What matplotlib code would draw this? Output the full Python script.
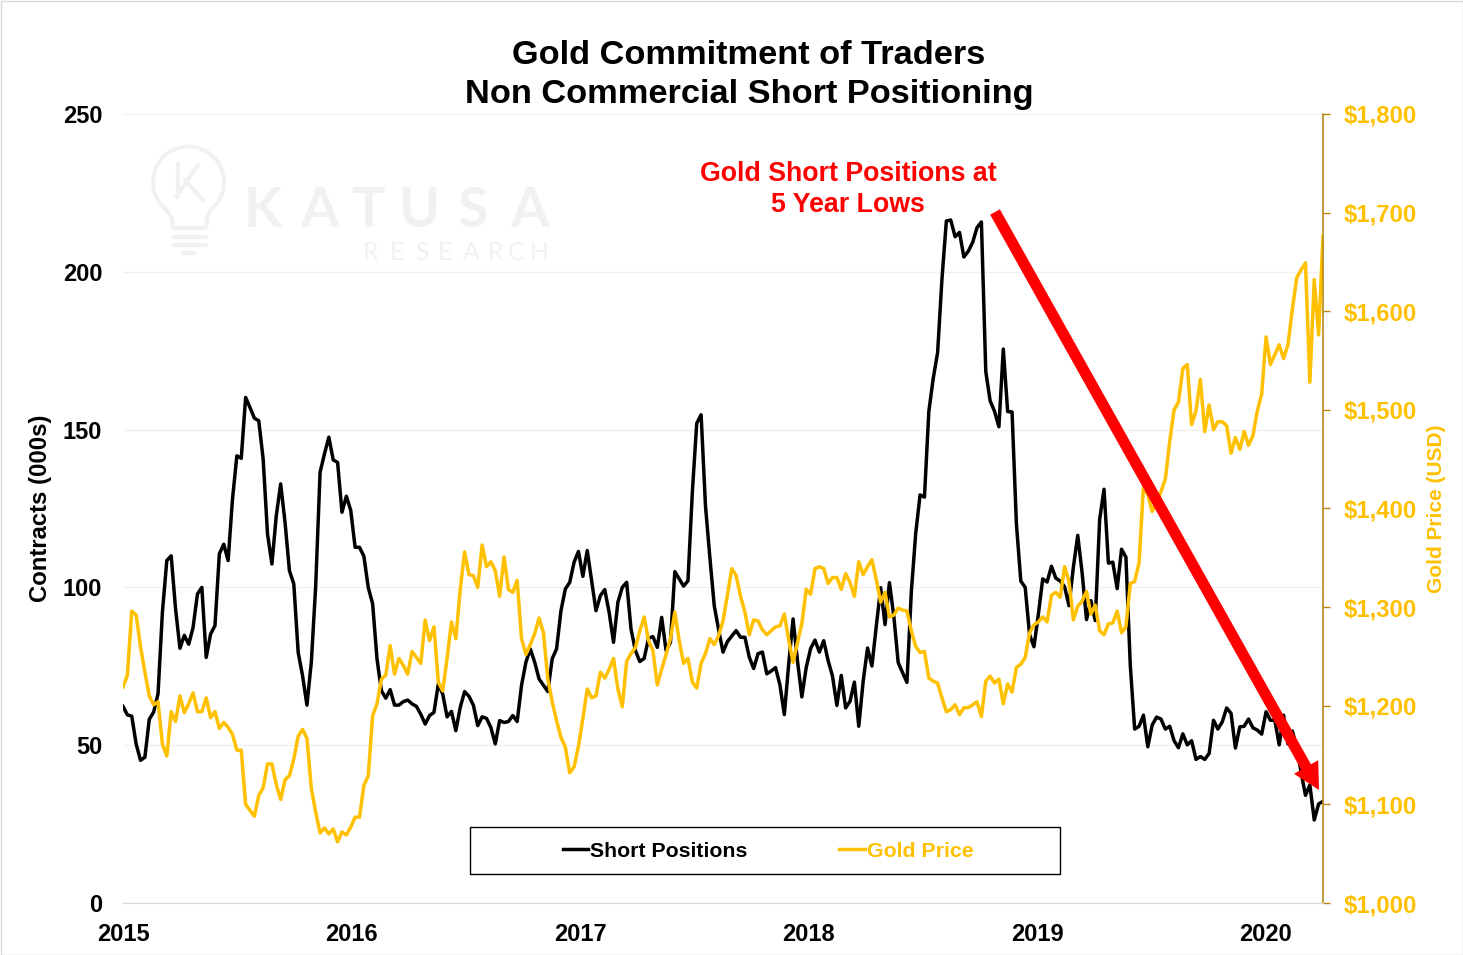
#!/usr/bin/env python
# coding: utf-8

import pandas as pd
from matplotlib import pyplot as plt
from matplotlib.lines import Line2D
from matplotlib.patches import Arc, FancyArrowPatch, Rectangle
from matplotlib.transforms import Affine2D

# weekly readings, in 000s of contracts
short_positions = [
    62.3, 59.6, 59.2, 50.4, 45.2, 46.2, 58.2, 60.5, 66.3, 92.2, 108.5, 110, 93.2, 80.7, 84.8, 82, 87.3, 97.9, 100, 77.8,
    85.2, 87.9, 110.6, 113.7, 108.5, 128, 141.7, 140.9, 160.2, 157, 153.6, 152.8, 140.7, 116.9, 107.4, 122.7, 132.8, 120.6, 105.3, 101.1,
    79.4, 72, 62.7, 76.3, 100.5, 136.5, 142.3, 147.6, 140.4, 139.6, 123.8, 128.9, 124.4, 112.7, 112.7, 109.9, 100, 94.8, 77.3, 67.3,
    64.9, 67.6, 62.7, 62.7, 63.8, 64.3, 63.1, 62.3, 59.8, 56.7, 59.4, 60.4, 69.4, 66.2, 59, 60.7, 54.6, 62, 67, 65.5,
    62.7, 56.2, 59, 58.5, 55.6, 50.4, 57.8, 57.2, 57.5, 59.4, 57.5, 69, 76.3, 80.5, 76.3, 71, 69, 67, 77.4, 80.5,
    92.6, 99.5, 101.6, 108, 111.4, 103.5, 111.7, 102.1, 92.6, 97.4, 99.3, 92.1, 82.6, 95.3, 100, 101.6, 86.8, 80, 76.5, 77.5,
    83.9, 84.4, 81, 90.5, 80, 82.6, 105, 102.7, 100.4, 102.1, 130.2, 152, 154.7, 125.8, 109.5, 94.2, 86.6, 79.5, 82.8, 84.6,
    86.3, 84.2, 84.2, 77.9, 74.3, 79, 79.5, 72.6, 73.5, 74.6, 69.1, 59.7, 75.7, 90, 76.8, 65.3, 74.6, 80.6, 83.3, 79.5,
    83.1, 76.8, 71.9, 62.6, 72.1, 61.8, 63.9, 70, 56, 70.2, 80.8, 75.1, 87.7, 99.9, 88.2, 101.5, 90.9, 76.2, 73, 69.9,
    98.6, 117.1, 129.3, 128.6, 155.8, 166.2, 174.4, 197.8, 216.1, 216.4, 211.1, 212.5, 204.7, 206.5, 209.3, 214, 215.8, 168.4, 159.1, 155.8,
    150.9, 175.5, 155.7, 155.6, 120, 102, 100, 85, 81.2, 91.4, 102.7, 101.7, 106.7, 102.9, 102, 100.2, 94.2, 106.4, 116.5, 104.6,
    89.8, 95.8, 89.5, 121.5, 131.1, 107.7, 108, 99.6, 112.1, 109.6, 75.2, 55.1, 56, 59.5, 49.5, 56.4, 58.9, 58.3, 55.1, 56,
    51.4, 49.2, 53.6, 50.1, 51.4, 45.5, 46.4, 45.5, 47.4, 57.9, 55.1, 57.4, 61.8, 60.1, 49.1, 55.8, 56, 58.3, 55.5, 54.8,
    53.5, 60.6, 57.9, 57.9, 50.1, 59.5, 50.4, 54.5, 49.5, 41.4, 34.1, 37.4, 26.3, 31.4, 32.2,
]

# weekly gold price, USD
gold_price = [
    1219, 1231, 1296, 1292, 1260, 1234, 1210, 1201, 1204, 1161, 1149, 1194, 1184, 1210, 1193, 1202, 1213, 1194, 1194, 1208,
    1188, 1194, 1177, 1183, 1178, 1171, 1155, 1155, 1100, 1094, 1088, 1109, 1117, 1141, 1141, 1120, 1105, 1125, 1129, 1146,
    1169, 1176, 1167, 1116, 1092, 1071, 1076, 1070, 1075, 1062, 1072, 1069, 1077, 1087, 1087, 1119, 1129, 1190, 1202, 1227,
    1231, 1261, 1232, 1248, 1241, 1232, 1255, 1249, 1243, 1287, 1266, 1280, 1224, 1215, 1248, 1285, 1268, 1318, 1356, 1333,
    1332, 1320, 1363, 1341, 1346, 1337, 1311, 1351, 1318, 1315, 1327, 1268, 1252, 1262, 1273, 1289, 1274, 1227, 1204, 1185,
    1168, 1158, 1132, 1138, 1159, 1187, 1217, 1208, 1210, 1234, 1228, 1237, 1248, 1217, 1199, 1245, 1253, 1259, 1276, 1290,
    1266, 1256, 1221, 1237, 1252, 1268, 1295, 1266, 1243, 1248, 1224, 1218, 1243, 1253, 1268, 1262, 1271, 1286, 1312, 1339,
    1332, 1311, 1295, 1272, 1287, 1286, 1277, 1272, 1276, 1280, 1281, 1293, 1267, 1244, 1264, 1283, 1318, 1313, 1339, 1341,
    1339, 1324, 1330, 1330, 1318, 1334, 1325, 1311, 1346, 1333, 1341, 1348, 1328, 1305, 1315, 1290, 1292, 1299, 1297, 1296,
    1276, 1260, 1254, 1255, 1228, 1225, 1223, 1208, 1194, 1196, 1201, 1191, 1198, 1198, 1201, 1204, 1189, 1225, 1230, 1223,
    1227, 1202, 1222, 1214, 1239, 1242, 1249, 1274, 1282, 1285, 1290, 1285, 1312, 1315, 1310, 1341, 1326, 1287, 1301, 1306,
    1316, 1293, 1302, 1276, 1272, 1283, 1284, 1296, 1274, 1280, 1324, 1326, 1345, 1422, 1414, 1397, 1406, 1417, 1430, 1468,
    1500, 1508, 1542, 1546, 1485, 1499, 1531, 1478, 1505, 1480, 1488, 1488, 1484, 1456, 1472, 1460, 1478, 1464, 1474, 1499,
    1516, 1574, 1546, 1556, 1566, 1552, 1566, 1602, 1634, 1642, 1649, 1528, 1632, 1576, 1676,
]

years = [2015, 2016, 2017, 2018, 2019, 2020]
contract_ticks = [0, 50, 100, 150, 200, 250]
price_ticks = [1000, 1100, 1200, 1300, 1400, 1500, 1600, 1700, 1800]

GOLD = '#FFC000'
AXIS_GOLD = '#B8860B'
W, H = 1463, 955

plt.rcParams['font.family'] = ['Liberation Sans', 'DejaVu Sans']
plt.rcParams['font.weight'] = 'bold'

dates = pd.date_range('2015-01-06', periods=len(short_positions), freq='7D')

fig = plt.figure(figsize=(W / 100, H / 100), dpi=100, facecolor='white')
ax = fig.add_axes([123 / W, 1 - 903 / H, 1200 / W, 789 / H])
ax2 = ax.twinx()

# pixel coordinates with the origin top left, for the decoration
px = Affine2D().scale(1, -1).translate(0, H)

ax.plot(dates, short_positions, color='black', lw=2.5, solid_joinstyle='round', label='Short Positions')
ax2.plot(dates, gold_price, color=GOLD, lw=2.5, solid_joinstyle='round', label='Gold Price')

ax.set_xlim(dates[0], dates[-1])
ax.set_ylim(0, 250)
ax2.set_ylim(1000, 1800)

ax.set_xticks([pd.Timestamp(f'{y}-01-06') for y in years])
ax.set_xticklabels(years, fontsize=17)
ax.set_yticks(contract_ticks)
ax.set_yticklabels(contract_ticks, fontsize=17)
ax.tick_params(axis='x', length=0, pad=14.5)
ax.tick_params(axis='y', length=0, pad=15)
ax.grid(axis='y', color='#f0f0f0', lw=1)
ax.set_axisbelow(True)

ax2.set_yticks(price_ticks)
ax2.set_yticklabels([f'${p:,}' for p in price_ticks], fontsize=17.2, color=GOLD)
ax2.tick_params(axis='y', length=5, width=1, color=AXIS_GOLD, pad=9.7)

for a in (ax, ax2):
    a.spines['top'].set_visible(False)
    a.spines['left'].set_visible(False)
    a.spines['bottom'].set_color('#d9d9d9')
    a.spines['right'].set_color('#d9d9d9')
ax2.spines['right'].set_color(AXIS_GOLD)
ax2.spines['right'].set_linewidth(1.1)

fig.text(41 / W, 1 - 508 / H, 'Contracts (000s)', rotation=90, fontsize=17.2, ha='center', va='center')
fig.text(1436 / W, 1 - 509 / H, 'Gold Price (USD)', rotation=90, fontsize=15, color=GOLD, ha='center', va='center')

fig.text(749 / W, 1 - 55 / H, 'Gold Commitment of Traders', fontsize=24.75, ha='center', va='center')
fig.text(749 / W, 1 - 94 / H, 'Non Commercial Short Positioning', fontsize=24.75, ha='center', va='center')

fig.text(848 / W, 1 - 174 / H, 'Gold Short Positions at', fontsize=19.3, color='red', ha='center', va='center')
fig.text(848 / W, 1 - 205 / H, '5 Year Lows', fontsize=19.3, color='red', ha='center', va='center')

# watermark behind everything, letters placed one by one for the wide tracking
WM = '#f1f1f1'
wm_text = dict(color=WM, family='Lato', ha='left', va='center', zorder=0)
for ch, x in zip('KATUSA', [244, 300, 351, 399, 458, 510]):
    fig.text(x / W, 1 - 211 / H, ch, fontsize=40, fontweight='bold', **wm_text)
for ch, x in zip('RESEARCH', [363, 390, 415, 438, 463, 488, 508, 530]):
    fig.text(x / W, 1 - 253 / H, ch, fontsize=18, fontweight='normal', **wm_text)
bulb = [Arc((188.5, 182), 71, 71, theta1=130, theta2=50, transform=px, color=WM, lw=2.8)]
wm_lines = [
    ([166, 172, 172], [209, 218, 224]),
    ([211, 207, 207], [209, 218, 224]),
    ([178, 178], [163, 197]),
    ([198, 176], [165, 197]),
    ([185, 203], [180, 200]),
    ([173, 206], [228, 228]),
    ([173, 206], [237, 237]),
    ([173, 206], [245, 245]),
    ([183, 195], [253, 253]),
]
for xs, ys in wm_lines:
    bulb.append(Line2D(xs, ys, transform=px, color=WM, lw=3, solid_capstyle='round'))
for art in bulb:
    art.set_zorder(0)
    fig.add_artist(art)

# put the axes above the watermark but keep them see-through
ax.patch.set_visible(False)
ax2.patch.set_visible(False)

# legend box
ax2.add_artist(Rectangle((470, 827), 590, 47, transform=px, fill=False, edgecolor='black', lw=1, zorder=5))
lines = ax.get_lines() + ax2.get_lines()
leg = ax2.legend(lines, [l.get_label() for l in lines], loc='center', ncols=2, frameon=False,
                 bbox_to_anchor=(768, 851), bbox_transform=px,
                 fontsize=15.3, handlelength=1.2, handletextpad=0.1, columnspacing=4.3)
leg.get_texts()[1].set_color(GOLD)
leg.set_zorder(6)

arrow = FancyArrowPatch((995, 212), (1319, 790), transform=px,
                        arrowstyle='simple,head_length=19,head_width=20,tail_width=8',
                        mutation_scale=1, shrinkA=0, shrinkB=0, color='red', lw=0, zorder=10)
fig.add_artist(arrow)

# thin grey frame around the picture
fig.add_artist(Rectangle((0.5, 0.5), W - 1, H - 1, transform=px, fill=False, edgecolor='#d9d9d9', lw=1))

fig.savefig('out.png', dpi=100)
